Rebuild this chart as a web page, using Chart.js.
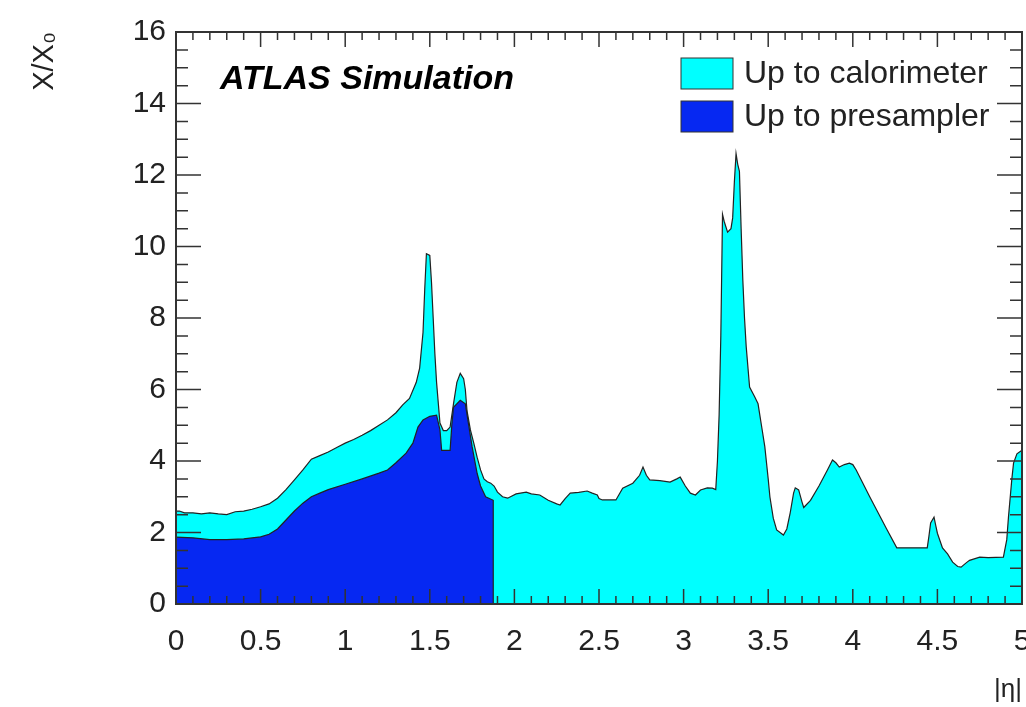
<!DOCTYPE html>
<html>
<head>
<meta charset="utf-8">
<script src="https://cdn.jsdelivr.net/npm/chart.js@4/dist/chart.umd.min.js"></script>
<style>
  html, body { margin: 0; padding: 0; background: #fff; }
  #wrap { width: 1026px; height: 707px; }
</style>
</head>
<body>
<div id="wrap"><canvas id="materialChart" width="1026" height="707"></canvas></div>
<script>
// material in front of the calorimeter
const caloEta = [0.00, 0.02, 0.05, 0.10, 0.15, 0.20, 0.25, 0.30, 0.35, 0.40, 0.45, 0.50, 0.55, 0.60, 0.65, 0.70, 0.75, 0.80, 0.85, 0.90,
  0.95, 1.00, 1.05, 1.10, 1.15, 1.20, 1.25, 1.30, 1.34, 1.38, 1.42, 1.44, 1.46, 1.47, 1.48, 1.50, 1.51, 1.52, 1.53, 1.54,
  1.56, 1.58, 1.60, 1.62, 1.64, 1.66, 1.68, 1.70, 1.71, 1.72, 1.74, 1.76, 1.78, 1.80, 1.82, 1.84, 1.86, 1.88, 1.90, 1.93,
  1.96, 2.01, 2.07, 2.10, 2.15, 2.20, 2.25, 2.27, 2.30, 2.33, 2.38, 2.43, 2.46, 2.49, 2.50, 2.52, 2.60, 2.64, 2.70, 2.74,
  2.76, 2.78, 2.80, 2.86, 2.92, 2.96, 2.98, 3.01, 3.04, 3.07, 3.10, 3.14, 3.17, 3.19, 3.20, 3.21, 3.22, 3.23, 3.24, 3.26,
  3.28, 3.29, 3.30, 3.31, 3.32, 3.33, 3.34, 3.35, 3.36, 3.37, 3.39, 3.42, 3.44, 3.46, 3.48, 3.50, 3.51, 3.53, 3.55, 3.59,
  3.61, 3.63, 3.65, 3.66, 3.68, 3.70, 3.71, 3.75, 3.80, 3.85, 3.88, 3.90, 3.92, 3.95, 3.98, 4.00, 4.02, 4.10, 4.20, 4.26,
  4.44, 4.45, 4.46, 4.48, 4.49, 4.50, 4.53, 4.56, 4.59, 4.62, 4.64, 4.67, 4.69, 4.75, 4.80, 4.89, 4.91, 4.92, 4.94, 4.95,
  4.97, 5.00];
const caloX0 = [2.60, 2.60, 2.55, 2.55, 2.52, 2.55, 2.52, 2.50, 2.58, 2.60, 2.65, 2.72, 2.80, 2.96, 3.20, 3.47, 3.75, 4.05, 4.15, 4.25,
  4.38, 4.50, 4.60, 4.72, 4.85, 5.00, 5.15, 5.35, 5.57, 5.75, 6.20, 6.60, 7.60, 8.80, 9.80, 9.75, 9.00, 8.00, 7.00, 6.20,
  5.06, 4.85, 4.85, 4.95, 5.60, 6.20, 6.45, 6.30, 6.00, 5.40, 4.87, 4.50, 4.10, 3.75, 3.50, 3.42, 3.38, 3.30, 3.13, 3.00,
  2.96, 3.08, 3.13, 3.08, 3.05, 2.90, 2.80, 2.77, 2.95, 3.10, 3.12, 3.16, 3.10, 3.05, 2.95, 2.91, 2.91, 3.24, 3.38, 3.60,
  3.83, 3.60, 3.47, 3.45, 3.41, 3.50, 3.55, 3.30, 3.10, 3.05, 3.19, 3.25, 3.24, 3.20, 4.00, 5.30, 7.50, 10.9, 10.7, 10.4,
  10.5, 10.8, 11.8, 12.6, 12.3, 12.1, 10.5, 9.06, 8.00, 7.20, 6.07, 5.80, 5.60, 5.00, 4.40, 3.50, 3.00, 2.40, 2.07, 1.93,
  2.10, 2.55, 3.10, 3.25, 3.19, 2.85, 2.70, 2.90, 3.30, 3.75, 4.03, 3.95, 3.83, 3.90, 3.94, 3.90, 3.75, 3.00, 2.10, 1.57,
  1.57, 1.90, 2.27, 2.43, 2.20, 1.98, 1.57, 1.40, 1.17, 1.05, 1.03, 1.15, 1.22, 1.31, 1.30, 1.31, 1.80, 2.43, 3.50, 3.94,
  4.20, 4.30];

// material in front of the presampler (stops at |eta| = 1.875)
const presEta = [0.00, 0.10, 0.20, 0.30, 0.40, 0.50, 0.55, 0.60, 0.65, 0.70, 0.75, 0.80, 0.85, 0.90, 1.00, 1.10, 1.20, 1.25, 1.30, 1.36,
  1.40, 1.43, 1.46, 1.50, 1.54, 1.56, 1.57, 1.62, 1.63, 1.64, 1.68, 1.71, 1.73, 1.75, 1.78, 1.80, 1.83, 1.875, 1.875];
const presX0 = [1.87, 1.85, 1.80, 1.80, 1.82, 1.88, 1.95, 2.10, 2.35, 2.60, 2.82, 3.00, 3.10, 3.20, 3.35, 3.50, 3.66, 3.75, 3.95, 4.22,
  4.50, 4.95, 5.15, 5.25, 5.28, 4.87, 4.30, 4.30, 5.00, 5.50, 5.70, 5.60, 5.00, 4.40, 3.65, 3.30, 3.00, 2.90, 0];

const seriesNames = ['Up to calorimeter', 'Up to presampler'];
const seriesColors = ['#00ffff', '#0628f2'];
const xTicks = [0, 0.5, 1, 1.5, 2, 2.5, 3, 3.5, 4, 4.5, 5];
const yTicks = [0, 2, 4, 6, 8, 10, 12, 14, 16];

const toPoints = (xs, ys) => xs.map((x, i) => ({ x: x, y: ys[i] }));

const FONT = 'Liberation Sans, Arial, Helvetica, sans-serif';

// ROOT style frame with inward ticks on all four sides
const rootFrame = {
  id: 'rootFrame',
  afterDatasetsDraw(chart) {
    const { ctx, chartArea: a, scales } = chart;
    const xs = scales.x, ys = scales.y;
    ctx.save();
    ctx.strokeStyle = '#333';
    ctx.lineWidth = 1.5;
    ctx.beginPath();
    for (let v = 0; v <= 50; v++) {
      const px = xs.getPixelForValue(v / 10);
      const len = v % 5 === 0 ? 15 : 8;
      ctx.moveTo(px, a.bottom); ctx.lineTo(px, a.bottom - len);
      ctx.moveTo(px, a.top); ctx.lineTo(px, a.top + len);
    }
    for (let v = 0; v <= 32; v++) {
      const py = ys.getPixelForValue(v / 2);
      const len = v % 4 === 0 ? 25 : 12;
      ctx.moveTo(a.left, py); ctx.lineTo(a.left + len, py);
      ctx.moveTo(a.right, py); ctx.lineTo(a.right - len, py);
    }
    ctx.stroke();
    ctx.lineWidth = 2;
    ctx.strokeRect(a.left, a.top, a.right - a.left, a.bottom - a.top);

    // label
    ctx.fillStyle = '#000';
    ctx.font = 'italic bold 34px ' + FONT;
    ctx.textBaseline = 'alphabetic';
    ctx.fillText('ATLAS Simulation', 220, 89);

    // legend
    ctx.font = '32px ' + FONT;
    ctx.lineWidth = 1;
    seriesNames.forEach((name, i) => {
      const top = 58 + i * 43;
      ctx.fillStyle = seriesColors[i];
      ctx.fillRect(681, top, 52, 31);
      ctx.strokeStyle = '#333';
      ctx.strokeRect(681, top, 52, 31);
      ctx.fillStyle = '#222';
      ctx.textBaseline = 'middle';
      ctx.fillText(name, 744, top + 16);
    });
    ctx.restore();
  }
};

new Chart('materialChart', {
  type: 'line',
  data: {
    datasets: [{
      label: seriesNames[0],
      data: toPoints(caloEta, caloX0),
      backgroundColor: seriesColors[0],
      borderColor: '#222',
      borderWidth: 1.2,
      fill: 'origin',
      order: 1
    }, {
      label: seriesNames[1],
      data: toPoints(presEta, presX0),
      backgroundColor: seriesColors[1],
      borderColor: '#222',
      borderWidth: 1.2,
      fill: 'origin',
      order: 0
    }]
  },
  options: {
    responsive: false,
    animation: false,
    elements: { point: { radius: 0 }, line: { tension: 0 } },
    layout: { padding: { top: 32, right: 4, left: 0, bottom: 0 } },
    plugins: { legend: { display: false }, tooltip: { enabled: false } },
    scales: {
      x: {
        type: 'linear',
        min: 0, max: 5,
        grid: { display: false },
        border: { display: false },
        afterBuildTicks: s => { s.ticks = xTicks.map(v => ({ value: v })); },
        afterFit: s => { s.height = 103; s.paddingLeft = 0; s.paddingRight = 0; },
        ticks: { color: '#222', font: { family: FONT, size: 30 }, padding: 12, maxRotation: 0, callback: v => String(v) },
        title: { display: true, text: '|η|', align: 'end', color: '#222', font: { family: FONT, size: 26 }, padding: { top: 0, bottom: 2 } }
      },
      y: {
        min: 0, max: 16,
        grid: { display: false },
        border: { display: false },
        afterBuildTicks: s => { s.ticks = yTicks.map(v => ({ value: v })); },
        afterFit: s => { s.width = 176; s.paddingTop = 0; s.paddingBottom = 0; },
        ticks: { color: '#222', font: { family: FONT, size: 30 }, padding: 2, callback: v => String(v) },
        title: { display: true, text: 'X/X₀', align: 'end', color: '#222', font: { family: FONT, size: 29 }, padding: { top: 28, bottom: 0 } }
      }
    }
  },
  plugins: [rootFrame]
});
</script>
</body>
</html>
